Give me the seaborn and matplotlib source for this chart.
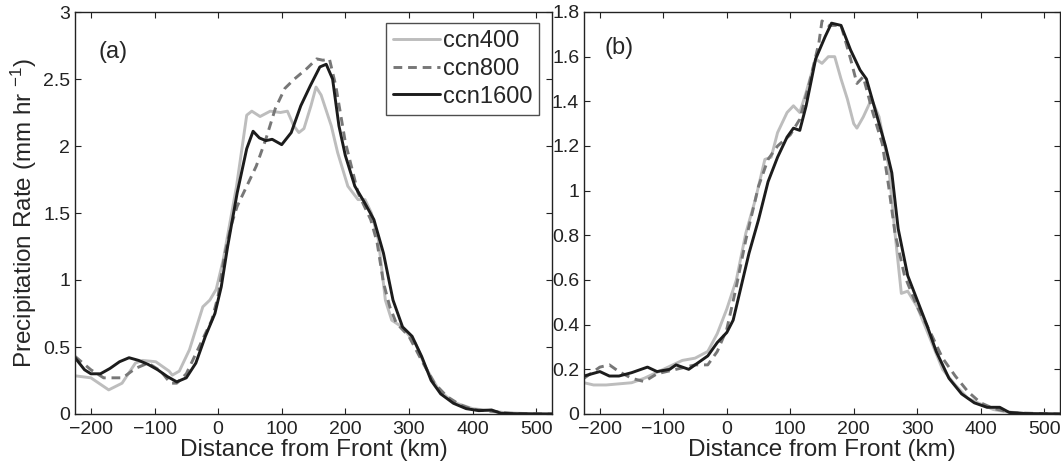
import numpy as np
import pandas as pd
import matplotlib
matplotlib.use('Agg')
import matplotlib.pyplot as plt
import seaborn as sns
from matplotlib.ticker import FormatStrFormatter

# panel (a) data
a400_x = [-225, -200, -172, -151, -130, -119, -98, -77, -72, -61, -45, -24, -13, -3, 8, 29, 45, 53, 66, 82, 98,
          109, 119, 127, 135, 146, 154, 162, 178, 188, 204, 220, 231, 241, 252, 263, 273, 289, 310, 326, 347,
          369, 400, 427, 450, 500, 525]
a400_y = [0.285, 0.27, 0.18, 0.23, 0.38, 0.40, 0.39, 0.32, 0.29, 0.32, 0.48, 0.80, 0.85, 0.93, 1.15, 1.70, 2.23,
          2.26, 2.22, 2.26, 2.25, 2.26, 2.15, 2.10, 2.13, 2.30, 2.44, 2.38, 2.15, 1.95, 1.70, 1.60, 1.60, 1.50,
          1.30, 0.85, 0.70, 0.65, 0.53, 0.35, 0.18, 0.09, 0.04, 0.025, 0.01, 0.0, 0.0]

a800_x = [-225, -200, -180, -150, -130, -110, -90, -75, -65, -50, -30, -10, 0, 10, 20, 30, 45, 60, 75, 90, 105,
          120, 140, 155, 165, 175, 185, 200, 220, 240, 250, 260, 270, 280, 300, 320, 340, 360, 380, 400, 430,
          460, 500, 525]
a800_y = [0.43, 0.33, 0.27, 0.27, 0.34, 0.38, 0.32, 0.23, 0.23, 0.30, 0.50, 0.70, 0.88, 1.18, 1.40, 1.55, 1.70,
          1.85, 2.05, 2.28, 2.43, 2.50, 2.58, 2.65, 2.64, 2.65, 2.45, 2.03, 1.65, 1.45, 1.28, 0.98, 0.80, 0.68,
          0.58, 0.40, 0.23, 0.13, 0.07, 0.035, 0.02, 0.005, 0.0, 0.0]

a1600_x = [-225, -210, -200, -185, -170, -155, -140, -125, -110, -95, -80, -65, -50, -35, -20, -5, 5, 15, 30, 45,
           55, 65, 75, 85, 100, 115, 130, 145, 160, 170, 180, 190, 200, 215, 230, 245, 260, 275, 290, 305, 320,
           335, 350, 370, 390, 410, 430, 445, 470, 525]
a1600_y = [0.42, 0.33, 0.30, 0.30, 0.34, 0.39, 0.42, 0.40, 0.37, 0.33, 0.28, 0.24, 0.27, 0.38, 0.58, 0.75, 0.95,
           1.25, 1.65, 1.98, 2.11, 2.06, 2.04, 2.05, 2.01, 2.10, 2.30, 2.45, 2.59, 2.61, 2.50, 2.15, 1.93, 1.70,
           1.58, 1.45, 1.20, 0.85, 0.65, 0.58, 0.43, 0.25, 0.15, 0.08, 0.04, 0.025, 0.03, 0.005, 0.002, 0.0]

# panel (b) data
b400_x = [-225, -210, -190, -150, -130, -100, -70, -50, -30, -15, 0, 15, 30, 45, 60, 70, 80, 95, 105, 115, 125,
          140, 150, 160, 170, 180, 190, 200, 205, 215, 228, 240, 255, 265, 275, 285, 300, 320, 340, 360, 380,
          400, 420, 440, 470, 525]
b400_y = [0.14, 0.13, 0.13, 0.14, 0.16, 0.20, 0.24, 0.25, 0.28, 0.36, 0.47, 0.60, 0.81, 0.96, 1.14, 1.15, 1.26,
          1.35, 1.38, 1.35, 1.44, 1.59, 1.57, 1.60, 1.60, 1.50, 1.41, 1.30, 1.28, 1.33, 1.41, 1.33, 1.11, 0.81,
          0.54, 0.55, 0.48, 0.34, 0.20, 0.13, 0.07, 0.045, 0.02, 0.01, 0.003, 0.0]

b800_x = [-225, -210, -200, -185, -170, -150, -130, -110, -80, -50, -30, -15, 0, 15, 30, 50, 65, 80, 100, 115,
          130, 145, 150, 160, 180, 195, 205, 215, 230, 245, 255, 265, 280, 300, 320, 340, 360, 380, 400, 420,
          450, 525]
b800_y = [0.16, 0.19, 0.21, 0.22, 0.19, 0.16, 0.145, 0.18, 0.20, 0.22, 0.22, 0.28, 0.38, 0.57, 0.78, 1.02, 1.14,
          1.20, 1.25, 1.32, 1.48, 1.66, 1.76, 1.74, 1.74, 1.59, 1.48, 1.51, 1.35, 1.21, 1.02, 0.81, 0.62, 0.48,
          0.37, 0.25, 0.17, 0.10, 0.05, 0.025, 0.005, 0.0]

b1600_x = [-225, -200, -185, -170, -150, -125, -110, -90, -80, -60, -45, -30, -15, 0, 10, 20, 35, 50, 65, 80, 95,
           105, 115, 125, 140, 155, 165, 180, 195, 210, 220, 235, 250, 260, 270, 285, 300, 315, 330, 350, 370,
           390, 410, 430, 445, 470, 525]
b1600_y = [0.17, 0.19, 0.17, 0.17, 0.185, 0.21, 0.19, 0.20, 0.22, 0.20, 0.23, 0.26, 0.32, 0.365, 0.42, 0.54,
           0.72, 0.87, 1.04, 1.15, 1.24, 1.28, 1.27, 1.38, 1.59, 1.69, 1.75, 1.74, 1.63, 1.54, 1.50, 1.35, 1.20,
           1.08, 0.83, 0.62, 0.51, 0.40, 0.28, 0.16, 0.09, 0.05, 0.03, 0.03, 0.007, 0.002, 0.0]

labels = ['ccn400', 'ccn800', 'ccn1600']
colors = ['#bdbdbd', '#777777', '#1c1c1c']
styles = ['-', (0, (3.0, 2.0)), '-']

sns.set_style('ticks')
plt.rcParams['font.family'] = ['Liberation Sans', 'DejaVu Sans']
plt.rcParams['mathtext.fontset'] = 'custom'
plt.rcParams['mathtext.rm'] = 'Liberation Sans'
plt.rcParams['mathtext.it'] = 'Liberation Sans'
plt.rcParams['xtick.direction'] = 'in'
plt.rcParams['ytick.direction'] = 'in'

fig = plt.figure(figsize=(10.61, 4.67), dpi=100)
axa = fig.add_axes([75 / 1061, 53 / 467, 477 / 1061, 402 / 467])
axb = fig.add_axes([584 / 1061, 53 / 467, 476 / 1061, 402 / 467])

panels = [
    (axa, [(a400_x, a400_y), (a800_x, a800_y), (a1600_x, a1600_y)]),
    (axb, [(b400_x, b400_y), (b800_x, b800_y), (b1600_x, b1600_y)]),
]

for ax, series in panels:
    for (xs, ys), lab, c, ls in zip(series, labels, colors, styles):
        sns.lineplot(x=xs, y=ys, ax=ax, color=c, linestyle=ls, linewidth=2.1,
                     label=lab, estimator=None, sort=False)
    ax.set_xlim(-225, 525)
    ax.set_xticks([-200, -100, 0, 100, 200, 300, 400, 500])
    ax.tick_params(top=True, right=True, length=4, width=0.8, labelsize=14, colors='#222222')
    ax.tick_params(axis='x', pad=5)
    ax.yaxis.set_major_formatter(FormatStrFormatter('%g'))
    ax.set_xlabel('Distance from Front (km)', fontsize=17.5, labelpad=1)
    for s in ax.spines.values():
        s.set_linewidth(1.0)
        s.set_color('#222222')

axa.set_ylim(0, 3)
axa.set_yticks(np.arange(0, 3.01, 0.5))
axb.set_ylim(0, 1.8)
axb.set_yticks(np.arange(0, 1.81, 0.2))
axa.set_ylabel('Precipitation Rate (mm hr $^{-1}$)', fontsize=17.5, labelpad=3)
axb.set_ylabel('')

axa.text(0.05, 0.90, '(a)', transform=axa.transAxes, fontsize=17, va='center')
axb.text(0.044, 0.91, '(b)', transform=axb.transAxes, fontsize=17, va='center')

leg = axa.legend(loc='upper right', bbox_to_anchor=(0.973, 0.973), borderaxespad=0,
                 fontsize=17, frameon=True, fancybox=False, handlelength=2.0,
                 handletextpad=0.1, labelspacing=0.25, borderpad=0.3)
leg.get_frame().set_edgecolor('#222222')
leg.get_frame().set_linewidth(1.0)
axb.get_legend().remove()

fig.savefig('out.png', dpi=100)
